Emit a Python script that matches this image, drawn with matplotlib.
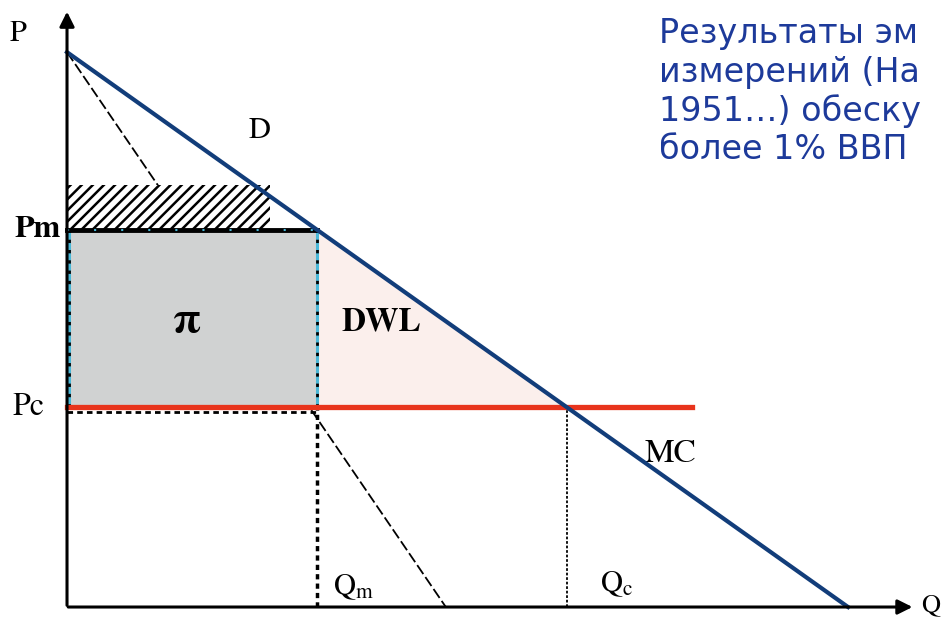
import matplotlib.pyplot as plt
from matplotlib.patches import Rectangle, Polygon

plt.rcParams['hatch.linewidth'] = 1.8
plt.rcParams['mathtext.fontset'] = 'stix'

# demand curve (also MC ends here), marginal revenue, marginal cost
q_demand = [0, 10]
p_demand = [10, 0]
q_mr = [0, 4.85]
p_mr = [10, 0]
q_mc = [0, 8.0]
p_mc = [3.6, 3.6]

Qm, Pm = 3.2, 6.8
Qc, Pc = 6.4, 3.6
hatch_q, hatch_p = 2.6, 7.6

# the note is cropped by the slide edge in the original
note_lines = ["Результаты эм",
              "измерений (На",
              "1951…) обеску",
              "более 1% ВВП"]

fig = plt.figure(figsize=(9.41, 6.23), dpi=100)
ax = fig.add_axes([0, 0, 1, 1])
ax.set_xlim(-0.858, 11.19)
ax.set_ylim(-0.288, 10.94)
ax.axis('off')

# dead weight loss triangle
ax.add_patch(Polygon([(Qm, Pm), (Qm, Pc), (Qc, Pc)], closed=True,
                     facecolor='#fbefec', edgecolor='none', zorder=1))

# MR line
ax.plot(q_mr, p_mr, color='black', lw=1.3, ls=(0, (6, 2)), zorder=2)

# profit rectangle
ax.add_patch(Rectangle((0, Pc), Qm, Pm - Pc, facecolor='#d0d2d2',
                       edgecolor='none', zorder=3))
for xe in (0.03, Qm):
    ax.plot([xe, xe], [Pc, Pm], color='#4ab8d8', lw=2.2, zorder=4)
    ax.plot([xe, xe], [Pc, Pm], color='black', lw=2, ls=(0, (1.2, 2.5)),
            zorder=4)

# hatched area
ax.add_patch(Rectangle((0, Pm), hatch_q, hatch_p - Pm, facecolor='white',
                       edgecolor='black', hatch='///', lw=0, zorder=3))

# Pm level line
ax.plot([0, Qm], [Pm, Pm], color='black', lw=3.5, zorder=5)
ax.plot([0, Qm], [Pm, Pm], color='#4ab8d8', lw=1.5, ls=(0, (1, 12)), zorder=5)

# dotted guide lines
ax.plot([0, Qm], [Pc - 0.09, Pc - 0.09], color='black', lw=2,
        ls=(0, (2, 1.5)), zorder=4)
ax.plot([Qm, Qm], [0, Pc], color='black', lw=2.5, ls=(0, (1.5, 1.2)), zorder=4)
ax.plot([Qc, Qc], [0, Pc], color='black', lw=1.3, ls=(0, (1.5, 1)), zorder=4)

# MC and demand
ax.plot(q_mc, p_mc, color='#e8341c', lw=3.8, zorder=5)
ax.plot(q_demand, p_demand, color='#123d7a', lw=3.0, zorder=6)

# axes with arrows
ax.annotate('', xy=(0, 10.78), xytext=(0, -0.02),
            arrowprops=dict(arrowstyle='-|>', lw=2.2, color='black',
                            mutation_scale=22), zorder=7)
ax.annotate('', xy=(10.86, 0), xytext=(-0.02, 0),
            arrowprops=dict(arrowstyle='-|>', lw=2.2, color='black',
                            mutation_scale=22), zorder=7)

serif = 'STIXGeneral'
ax.text(-0.73, 10.2, 'P', family=serif, fontsize=22, va='baseline')
ax.text(10.94, 0.03, 'Q', family=serif, fontsize=19, va='center')
ax.text(2.32, 8.45, 'D', family=serif, fontsize=22)
ax.text(-0.67, Pm, 'Pm', family=serif, fontsize=23, weight='bold', va='center')
ax.text(-0.7, Pc, 'Pc', family=serif, fontsize=23, va='center')
ax.text(1.35, 5.15, 'π', family=serif, fontsize=32, weight='bold', va='center')
ax.text(3.52, 5.12, 'DWL', family=serif, fontsize=24, weight='bold', va='center')
ax.text(7.39, 2.75, 'MC', family=serif, fontsize=24, va='center')
ax.text(3.4, 0.35, r'$\mathrm{Q}_{\mathrm{m}}$', fontsize=22, va='center')
ax.text(6.82, 0.42, r'$\mathrm{Q}_{\mathrm{c}}$', fontsize=22, va='center')

# note on the right
for i, line in enumerate(note_lines):
    fig.text(659 / 941, 1 - (34 + 38.5 * i) / 623, line, family='DejaVu Sans',
             fontsize=24, color='#1d3a9a', va='center')

fig.savefig('out.png', dpi=100)
